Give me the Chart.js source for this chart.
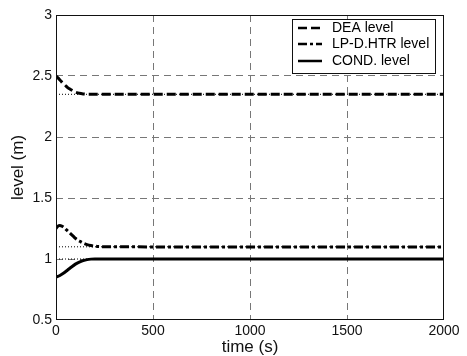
<!DOCTYPE html>
<html>
<head>
<meta charset="utf-8">
<script src="https://cdn.jsdelivr.net/npm/chart.js@4.4.1/dist/chart.umd.min.js"></script>
<style>
html,body{margin:0;padding:0;background:#fff;}
#wrap{width:467px;height:356px;}
</style>
</head>
<body>
<div id="wrap"><canvas id="c" width="467" height="356"></canvas></div>
<script>
const xTicks = [0, 500, 1000, 1500, 2000];
const yTicks = [0.5, 1, 1.5, 2, 2.5, 3];
const seriesNames = ['DEA level', 'LP-D.HTR level', 'COND. level'];

const deaTime = [0, 10, 20, 30, 40, 50, 60, 70, 80, 90, 100, 120, 140, 170, 2000];
const deaLevel = [2.50, 2.485, 2.468, 2.45, 2.435, 2.42, 2.405, 2.395, 2.385, 2.376, 2.368, 2.358, 2.353, 2.35, 2.35];

const lpTime = [0, 10, 20, 30, 40, 50, 60, 70, 80, 90, 100, 110, 120, 140, 160, 180, 200, 230, 260, 2000];
const lpLevel = [1.25, 1.27, 1.275, 1.27, 1.26, 1.245, 1.23, 1.215, 1.2, 1.185, 1.17, 1.158, 1.148, 1.13, 1.118, 1.11, 1.105, 1.101, 1.1, 1.098];

const condTime = [0, 20, 40, 60, 80, 100, 120, 140, 160, 180, 200, 2000];
const condLevel = [0.85, 0.865, 0.885, 0.91, 0.935, 0.958, 0.975, 0.987, 0.995, 0.999, 1.0, 1.0];

const refTime = [0, 2000];
const deaRef = [2.35, 2.35];
const lpRef = [1.1, 1.1];
const condRef = [1.0, 1.0];

function pts(xs, ys) { return xs.map((x, i) => ({x: x, y: ys[i]})); }

const dashes = [[9, 4], [9, 3, 3, 3], []];

const frame = {
  id: 'frame',
  afterDatasetsDraw(chart) {
    const {ctx, chartArea: a} = chart;
    ctx.save();
    ctx.strokeStyle = '#111';
    ctx.lineWidth = 1;
    ctx.setLineDash([]);
    ctx.strokeRect(a.left + 0.5, a.top + 0.5, a.right - a.left - 1, a.bottom - a.top - 1);
    // legend
    const lx = 292, ly = 19, lw = 143, lh = 54;
    ctx.fillStyle = '#fff';
    ctx.fillRect(lx, ly, lw, lh);
    ctx.strokeRect(lx + 0.5, ly + 0.5, lw, lh);
    ctx.font = '14px "Liberation Sans", Arial, sans-serif';
    ctx.textBaseline = 'middle';
    ctx.textAlign = 'left';
    const rows = [28, 44, 61];
    for (let i = 0; i < seriesNames.length; i++) {
      ctx.strokeStyle = '#000';
      ctx.lineWidth = 2.5;
      ctx.setLineDash(dashes[i]);
      ctx.beginPath();
      ctx.moveTo(298, rows[i]);
      ctx.lineTo(322, rows[i]);
      ctx.stroke();
      ctx.fillStyle = '#000';
      ctx.fillText(seriesNames[i], 332, rows[i]);
    }
    ctx.restore();
  }
};

const refStyle = {borderColor: '#000', borderWidth: 1, borderDash: [1, 2], pointRadius: 0, fill: false, tension: 0};

new Chart(document.getElementById('c'), {
  type: 'line',
  data: {
    datasets: [
      Object.assign({label: 'ref1', data: pts(refTime, deaRef)}, refStyle),
      Object.assign({label: 'ref2', data: pts(refTime, lpRef)}, refStyle),
      Object.assign({label: 'ref3', data: pts(refTime, condRef)}, refStyle),
      {label: seriesNames[0], data: pts(deaTime, deaLevel), borderColor: '#000', borderWidth: 3, borderDash: dashes[0], pointRadius: 0, fill: false, cubicInterpolationMode: 'monotone'},
      {label: seriesNames[1], data: pts(lpTime, lpLevel), borderColor: '#000', borderWidth: 3, borderDash: dashes[1], pointRadius: 0, fill: false, cubicInterpolationMode: 'monotone'},
      {label: seriesNames[2], data: pts(condTime, condLevel), borderColor: '#000', borderWidth: 3, borderDash: dashes[2], pointRadius: 0, fill: false, cubicInterpolationMode: 'monotone'}
    ]
  },
  options: {
    responsive: false,
    animation: false,
    devicePixelRatio: 1,
    layout: {padding: {top: 15, right: 23, left: 0, bottom: 0}},
    plugins: {legend: {display: false}, tooltip: {enabled: false}},
    scales: {
      x: {
        type: 'linear', min: 0, max: 2000,
        afterFit(s) { s.height = 36; },
        afterBuildTicks(s) { s.ticks = xTicks.map(v => ({value: v})); },
        ticks: {color: '#111', padding: 3, font: {family: '"Liberation Sans", Arial, sans-serif', size: 14}, maxRotation: 0, callback: v => String(v)},
        grid: {drawTicks: false, color: c => (c.tick && (c.tick.value === 0 || c.tick.value === 2000)) ? 'rgba(0,0,0,0)' : '#777', lineWidth: 1},
        border: {display: false, dash: [7, 5]},
        title: {display: true, text: 'time (s)', color: '#111', font: {family: '"Liberation Sans", Arial, sans-serif', size: 17}, padding: {top: 0, bottom: -2}}
      },
      y: {
        type: 'linear', min: 0.5, max: 3,
        afterFit(s) { s.width = 56; },
        afterBuildTicks(s) { s.ticks = yTicks.map(v => ({value: v})); },
        ticks: {color: '#111', padding: 4, font: {family: '"Liberation Sans", Arial, sans-serif', size: 14}, callback: v => String(v)},
        grid: {drawTicks: false, color: c => (c.tick && (c.tick.value === 0.5 || c.tick.value === 3)) ? 'rgba(0,0,0,0)' : '#777', lineWidth: 1},
        border: {display: false, dash: [7, 5]},
        title: {display: true, text: 'level (m)', color: '#111', font: {family: '"Liberation Sans", Arial, sans-serif', size: 17}, padding: {top: 8, bottom: 0}}
      }
    }
  },
  plugins: [frame]
});
</script>
</body>
</html>
